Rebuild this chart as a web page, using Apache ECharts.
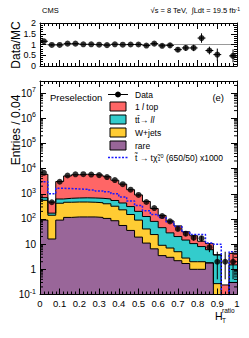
<!DOCTYPE html>
<html><head><meta charset="utf-8">
<script src="https://cdn.jsdelivr.net/npm/echarts@6/dist/echarts.min.js"></script>
<style>html,body{margin:0;padding:0;background:#fff}#c{width:249px;height:338px}</style>
</head><body><div id="c"></div>
<script>
// ---------------- data ----------------
const binLo = [0, 0.04, 0.08, 0.12, 0.16, 0.2, 0.24, 0.28, 0.32, 0.36, 0.4, 0.44, 0.48, 0.52, 0.56, 0.6, 0.64, 0.68, 0.72, 0.76, 0.8, 0.84, 0.88, 0.92, 0.96];
const binWidth = 0.04;
const dataCounts = [6800, 460, 3000, 5300, 5900, 6000, 5800, 5500, 4600, 3500, 2400, 1450, 900, 470, 270, 130, 80, 40, 26, 18, 17, 7.5, 2, 2, 2];
const dataErrLo = [82, 21, 55, 73, 77, 77, 76, 74, 68, 59, 49, 38, 30, 22, 16, 11, 9, 6.3, 5.1, 4.2, 4.1, 2.7, 1.6, 1.6, 1.6];
const dataErrHi = [82, 21, 55, 73, 77, 77, 76, 74, 68, 59, 49, 38, 30, 22, 16, 11, 9, 6.3, 5.1, 4.2, 4.1, 3.2, 3.0, 3.0, 3.0];
const rare  = [90, 16, 90, 115, 120, 120, 120, 115, 105, 85, 55, 35, 19, 11, 6.5, 3.5, 3, 2.2, 1.7, 1.0, 1.0, 1.8, 0.05, 0, 0.3];
const wjets = [460, 124, 330, 345, 350, 350, 340, 325, 295, 235, 175, 115, 71, 29, 17.5, 5.5, 4, 2.8, 1.1, 1.0, 1.0, 0, 0.22, 0, 0];
const ttll  = [150, 30, 200, 200, 210, 220, 220, 220, 220, 220, 200, 160, 110, 85, 56, 36, 21, 15, 11.7, 8.5, 6, 4.2, 3.43, 0, 1.2];
const top1l = [5200, 300, 2430, 4440, 5020, 5260, 5070, 4890, 4130, 2910, 1990, 1140, 700, 370, 180, 93, 55, 33, 16.5, 11, 5, 4.5, 0.1, 0.24, 2.8];
const signalX1000 = [3000, 1000, 1650, 1600, 1550, 1500, 1400, 1300, 1200, 1000, 750, 520, 340, 210, 150, 115, 75, 50, 30, 24, 24, 11, 10, 0, 5];
const ratio    = [1.15, 0.98, 0.98, 1.04, 1.04, 1.01, 1.01, 0.99, 0.97, 1.01, 0.99, 1.0, 1.0, 0.95, 1.04, 0.94, 0.96, 0.76, 0.84, 0.84, 1.3, 0.72, 0.53, null, 0.47];
const ratioErr = [0.02, 0.05, 0.02, 0.02, 0.02, 0.02, 0.02, 0.02, 0.02, 0.02, 0.02, 0.03, 0.04, 0.05, 0.07, 0.08, 0.1, 0.11, 0.14, 0.15, 0.22, 0.18, 0.28, null, 0.3];
const xTickLabels = {0: '0', 1: '1'};
const ratioTickLabels = {0: '0', 0.5: '0.5', 1: '1', 1.5: '1.5', 2: '2'};
const minorMultipliers = [2, 3, 4, 5, 6, 7, 8, 9];
const decades = [-1, 0, 1, 2, 3, 4, 5, 6, 7];

// ---------------- helpers ----------------
const FONT = 'Liberation Sans, Arial, Helvetica, sans-serif';
const FLOOR = 1e-4;
const n = binLo.length;
function cum(...arrs) { return binLo.map((_, i) => arrs.reduce((s, a) => s + a[i], 0)); }
const cRare = cum(rare), cW = cum(rare, wjets), cT = cum(rare, wjets, ttll), cAll = cum(rare, wjets, ttll, top1l);
function stepData(arr) {
  const d = binLo.map((x, i) => [x, Math.max(arr[i], FLOOR)]);
  d.push([1, Math.max(arr[n - 1], FLOOR)]);
  return d;
}
function stackSeries(arr, color) {
  return {type: 'line', xAxisIndex: 2, yAxisIndex: 2, step: 'end', symbol: 'none', clip: true,
    data: stepData(arr), lineStyle: {color: '#000', width: 1}, areaStyle: {color: color, opacity: 1, origin: 'start'},
    animation: false, silent: true};
}
const centers = binLo.map(x => x + binWidth / 2);

const axisLineStyle = {show: true, onZero: false, lineStyle: {color: '#000', width: 1}};
function xAx(grid, pos, labels) {
  return {type: 'value', gridIndex: grid, position: pos, min: 0, max: 1, interval: 0.1, z: 10,
    axisLine: axisLineStyle,
    axisTick: {show: true, inside: true, length: 6, lineStyle: {color: '#000', width: 1}},
    minorTick: {show: true, splitNumber: 5, length: 3, lineStyle: {color: '#000', width: 1}},
    splitLine: {show: false}, minorSplitLine: {show: false},
    axisLabel: labels ? {show: true, margin: 4, color: '#000', fontFamily: FONT, fontSize: 9.5,
      formatter: v => (xTickLabels[v] !== undefined ? xTickLabels[v] : v.toFixed(1)), showMinLabel: true, showMaxLabel: true} : {show: false}};
}
function yRatio(pos, labels) {
  return {type: 'value', gridIndex: 0, position: pos, min: 0, max: 2, interval: 0.5, z: 10,
    axisLine: axisLineStyle,
    axisTick: {show: true, inside: true, length: 6, lineStyle: {color: '#000', width: 1}},
    minorTick: {show: true, splitNumber: 5, length: 3, lineStyle: {color: '#000', width: 1}},
    splitLine: {show: false}, minorSplitLine: {show: false},
    axisLabel: labels ? {show: true, margin: 4, color: '#000', fontFamily: FONT, fontSize: 9,
      formatter: v => ratioTickLabels[v] !== undefined ? ratioTickLabels[v] : ''} : {show: false}};
}
function yMain(pos, labels) {
  return {type: 'log', logBase: 10, gridIndex: 1, position: pos, min: 0.1, max: 3e7, splitNumber: 10, z: 10,
    axisLine: axisLineStyle,
    axisTick: {show: true, inside: true, length: 6, lineStyle: {color: '#000', width: 1}},
    splitLine: {show: false},
    axisLabel: labels ? {show: true, margin: 4, color: '#000', fontFamily: FONT, fontSize: 10, lineHeight: 14,
      showMaxLabel: false,
      formatter: v => {
        const l = Math.log10(v), k = Math.round(l);
        if (Math.abs(l - k) > 1e-6) return '';
        if (k === 0) return '1';
        if (k === 1) return '10';
        return '10{s|' + k + '}';
      },
      rich: {s: {fontSize: 7, verticalAlign: 'top', fontFamily: FONT, color: '#000'}}} : {show: false}};
}

// minor log ticks (2..9 x 10^k) drawn on both sides of the main panel
const minorVals = [];
decades.forEach(k => minorMultipliers.forEach(m => { const v = m * Math.pow(10, k); if (v < 3e7) minorVals.push([0, v]); }));

function errBar(p, api, floorVal) {
  const x = api.value(0), lo = Math.max(api.value(1), floorVal), hi = api.value(2), y = api.value(3), hw = api.value(4);
  const a = api.coord([x, lo]), b = api.coord([x, hi]);
  const children = [{type: 'line', shape: {x1: a[0], y1: a[1], x2: b[0], y2: b[1]}, style: {stroke: '#000', lineWidth: 1}}];
  if (hw > 0) {
    const l = api.coord([x - hw, y]), r = api.coord([x + hw, y]);
    children.push({type: 'line', shape: {x1: l[0], y1: l[1], x2: r[0], y2: r[1]}, style: {stroke: '#000', lineWidth: 1}});
  }
  return {type: 'group', children};
}

const option = {
  animation: false,
  backgroundColor: '#fff',
  textStyle: {fontFamily: FONT},
  grid: [
    {left: 40, top: 23, width: 197, height: 43, show: false},
    {left: 40, top: 81, width: 197, height: 213.5, show: false}
  ],
  xAxis: [xAx(0, 'bottom', false), xAx(0, 'top', false), xAx(1, 'bottom', true), xAx(1, 'top', false)],
  yAxis: [yRatio('left', true), yRatio('right', false), yMain('left', true), yMain('right', false)],
  series: [
    // ratio panel
    {type: 'line', xAxisIndex: 0, yAxisIndex: 0, data: [[0, 1], [1, 1]], symbol: 'none',
      lineStyle: {color: '#999', width: 1}, silent: true, z: 1},
    {type: 'custom', xAxisIndex: 0, yAxisIndex: 0, clip: true, z: 5,
      data: centers.map((x, i) => ratio[i] == null ? null : [x, ratio[i] - ratioErr[i], ratio[i] + ratioErr[i], ratio[i], binWidth / 2]).filter(d => d),
      encode: {x: 0, y: [1, 2]},
      renderItem: (p, api) => errBar(p, api, 0)},
    {type: 'scatter', xAxisIndex: 0, yAxisIndex: 0, symbol: 'circle', symbolSize: 6, z: 6,
      itemStyle: {color: '#000'}, data: centers.map((x, i) => ratio[i] == null ? null : [x, ratio[i]]).filter(d => d)},
    // main panel stacks
    stackSeries(cAll, '#ff6666'),
    stackSeries(cT, '#33cccc'),
    stackSeries(cW, '#ffcc33'),
    stackSeries(cRare, '#996699'),
    {type: 'line', xAxisIndex: 2, yAxisIndex: 2, step: 'end', symbol: 'none', clip: true, z: 4,
      data: stepData(signalX1000), lineStyle: {color: '#1a1aff', width: 1.5, type: [2, 1.5]}, silent: true},
    {type: 'custom', xAxisIndex: 2, yAxisIndex: 2, clip: true, z: 5,
      data: centers.map((x, i) => [x, dataCounts[i] - dataErrLo[i], dataCounts[i] + dataErrHi[i], dataCounts[i], 0]),
      encode: {x: 0, y: [1, 2]},
      renderItem: (p, api) => errBar(p, api, FLOOR)},
    {type: 'scatter', xAxisIndex: 2, yAxisIndex: 2, symbol: 'circle', symbolSize: 6, z: 6,
      itemStyle: {color: '#000'}, data: centers.map((x, i) => [x, dataCounts[i]])},
    {type: 'custom', xAxisIndex: 2, yAxisIndex: 2, z: 12, silent: true, data: minorVals,
      encode: {x: 0, y: 1},
      renderItem: (p, api) => {
        const a = api.coord([0, api.value(1)]), b = api.coord([1, api.value(1)]);
        return {type: 'group', children: [
          {type: 'line', shape: {x1: a[0], y1: a[1], x2: a[0] + 3, y2: a[1]}, style: {stroke: '#000', lineWidth: 1}},
          {type: 'line', shape: {x1: b[0], y1: b[1], x2: b[0] - 3, y2: b[1]}, style: {stroke: '#000', lineWidth: 1}}
        ]};
      }}
  ],
  graphic: [
    {type: 'text', x: 42, y: 10, style: {text: 'CMS', font: '7.5px ' + FONT, fill: '#000', verticalAlign: 'middle'}},
    {type: 'text', x: 240, y: 10, style: {text: '√s = 8 TeV,  ∫Ldt = 19.5 fb{s|-1}', font: '7.5px ' + FONT, fill: '#000',
      align: 'right', verticalAlign: 'middle', rich: {s: {fontSize: 5, verticalAlign: 'top', fill: '#000'}}}},
    {type: 'text', x: 16, y: 45, rotation: Math.PI / 2, style: {text: 'Data/MC', font: '12px ' + FONT, fill: '#000', align: 'center', verticalAlign: 'middle'}},
    {type: 'text', x: 16, y: 130, rotation: Math.PI / 2, style: {text: 'Entries / 0.04', font: '12px ' + FONT, fill: '#000', align: 'center', verticalAlign: 'middle'}},
    {type: 'text', x: 50, y: 97, style: {text: 'Preselection', font: '9.5px ' + FONT, fill: '#000', verticalAlign: 'middle'}},
    {type: 'text', x: 224, y: 97, style: {text: '(e)', font: '9.5px ' + FONT, fill: '#000', align: 'right', verticalAlign: 'middle'}},
    // legend
    {type: 'line', shape: {x1: 108, y1: 94.5, x2: 128, y2: 94.5}, style: {stroke: '#000', lineWidth: 1}},
    {type: 'circle', shape: {cx: 118, cy: 94.5, r: 3}, style: {fill: '#000'}},
    {type: 'text', x: 135, y: 94.5, style: {text: 'Data', font: '8.5px ' + FONT, fill: '#000', verticalAlign: 'middle'}},
    {type: 'rect', shape: {x: 110, y: 102, width: 16, height: 9}, style: {fill: '#ff6666', stroke: '#000', lineWidth: 1}},
    {type: 'text', x: 135, y: 106.5, style: {text: '1 {i|l} top', font: '8.5px ' + FONT, fill: '#000', verticalAlign: 'middle',
      rich: {i: {fontStyle: 'italic', fontSize: 8.5, fill: '#000'}}}},
    {type: 'rect', shape: {x: 110, y: 115, width: 16, height: 9}, style: {fill: '#33cccc', stroke: '#000', lineWidth: 1}},
    {type: 'text', x: 135, y: 119.5, style: {text: 'tt\u0304\u2192 {i|ll}', font: '8.5px ' + FONT, fill: '#000', verticalAlign: 'middle',
      rich: {i: {fontStyle: 'italic', fontSize: 8.5, fill: '#000'}}}},
    {type: 'rect', shape: {x: 110, y: 128, width: 16, height: 9}, style: {fill: '#ffcc33', stroke: '#000', lineWidth: 1}},
    {type: 'text', x: 135, y: 132.5, style: {text: 'W+jets', font: '8.5px ' + FONT, fill: '#000', verticalAlign: 'middle'}},
    {type: 'rect', shape: {x: 110, y: 141, width: 16, height: 9}, style: {fill: '#996699', stroke: '#000', lineWidth: 1}},
    {type: 'text', x: 135, y: 145.5, style: {text: 'rare', font: '8.5px ' + FONT, fill: '#000', verticalAlign: 'middle'}},
    {type: 'line', shape: {x1: 108, y1: 157.5, x2: 128, y2: 157.5}, style: {stroke: '#1a1aff', lineWidth: 1.5, lineDash: [2, 1.5]}},
    {type: 'text', x: 135, y: 157.5, style: {text: 't\u0303 \u2192 t\u03C7\u0303{s|1}{p|0} (650/50) x1000', font: '8.5px ' + FONT, fill: '#000', verticalAlign: 'middle',
      rich: {s: {fontSize: 5.5, verticalAlign: 'bottom', fill: '#000'}, p: {fontSize: 5.5, verticalAlign: 'top', fill: '#000'}}}},
    // x-axis title
    {type: 'text', x: 215, y: 316, style: {text: 'H', font: '10.5px ' + FONT, fill: '#000', verticalAlign: 'middle'}},
    {type: 'text', x: 222, y: 310.5, style: {text: 'ratio', font: '6.5px ' + FONT, fill: '#000', verticalAlign: 'middle'}},
    {type: 'text', x: 222, y: 320.5, style: {text: 'T', font: '6.5px ' + FONT, fill: '#000', verticalAlign: 'middle'}}
  ]
};
const chart = echarts.init(document.getElementById('c'), null, {renderer: 'svg', width: 249, height: 338});
chart.setOption(option);
</script>
</body></html>
